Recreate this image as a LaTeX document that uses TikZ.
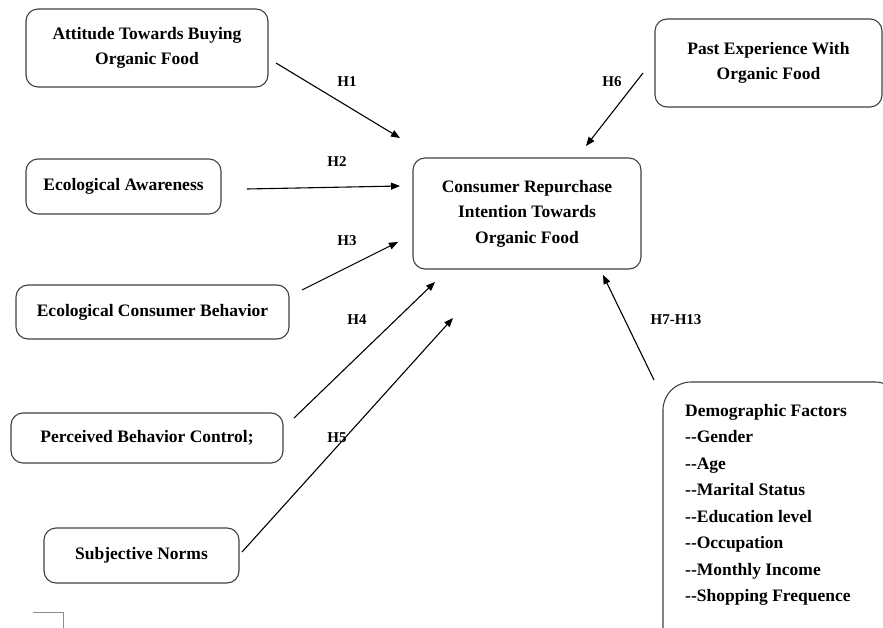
\documentclass[tikz,border=0pt]{standalone}
\usepackage{fontspec}
\setmainfont{Liberation Serif}
\usetikzlibrary{arrows.meta}
\begin{document}
\begin{tikzpicture}[x=1pt,y=-1pt,
  box/.style={draw=black!75, line width=1.1pt, rounded corners=12pt, align=center,
    font=\fontsize{17.5}{25.5}\selectfont\bfseries, inner sep=0pt},
  arr/.style={line width=1.1pt, -{Triangle[length=9pt,width=7pt]}},
  hl/.style={font=\fontsize{15}{18}\selectfont\bfseries, inner sep=0pt}]
\useasboundingbox (0,0) rectangle (883,628);
\clip (0,0) rectangle (883,628);

\node[box, minimum width=242pt, minimum height=78pt] (att) at (147,48) {Attitude Towards Buying\\Organic Food};
\node[box, minimum width=195pt, minimum height=55pt] (eco) at (123.5,186.5) {Ecological Awareness};
\node[box, minimum width=273pt, minimum height=54pt] (ecb) at (152.5,312) {Ecological Consumer Behavior};
\node[box, minimum width=272pt, minimum height=50pt] (pbc) at (147,438) {Perceived Behavior Control;};
\node[box, minimum width=195pt, minimum height=55pt] (sn) at (141.5,555.5) {Subjective Norms};
\node[box, minimum width=228pt, minimum height=111pt] (cr) at (527,213.5) {Consumer Repurchase\\Intention Towards\\Organic Food};
\node[box, minimum width=227pt, minimum height=88pt] (pe) at (768.5,63) {Past Experience With\\Organic Food};
\node[box, rounded corners=28pt, minimum width=240pt, minimum height=280pt] (demo) at (783,522) {};
\node[align=left, anchor=west, inner sep=0pt, font=\fontsize{17.5}{26.5}\selectfont\bfseries] (demotext) at (685,505)
  {Demographic Factors\\-{}-Gender\\-{}-Age\\-{}-Marital Status\\-{}-Education level\\-{}-Occupation\\-{}-Monthly Income\\-{}-Shopping Frequence};

\coordinate (a1) at (276,63);  \coordinate (b1) at (400,138);
\coordinate (a2) at (247,189); \coordinate (b2) at (400,186);
\coordinate (a3) at (302,290); \coordinate (b3) at (398,242);
\coordinate (a4) at (294,418); \coordinate (b4) at (435,282);
\coordinate (a5) at (242,552); \coordinate (b5) at (453,318);
\coordinate (a6) at (643,73);  \coordinate (b6) at (586,146);
\coordinate (a7) at (654,380); \coordinate (b7) at (603,275);

\draw[arr] (a1) -- (b1);
\draw[arr] (a2) -- (b2);
\draw[arr] (a3) -- (b3);
\draw[arr] (a4) -- (b4);
\draw[arr] (a5) -- (b5);
\draw[arr] (a6) -- (b6);
\draw[arr] (a7) -- (b7);

\node[hl] (l1) at (347,82) {H1};
\node[hl] (l2) at (337,162) {H2};
\node[hl] (l3) at (347,241) {H3};
\node[hl] (l4) at (357,320) {H4};
\node[hl] (l5) at (337,438) {H5};
\node[hl] (l6) at (612,82) {H6};
\node[hl] (l7) at (676,320) {H7-H13};

\draw[black!45, line width=1pt] (33,612) -- (63,612) -- (63,628);
\end{tikzpicture}
\end{document}
